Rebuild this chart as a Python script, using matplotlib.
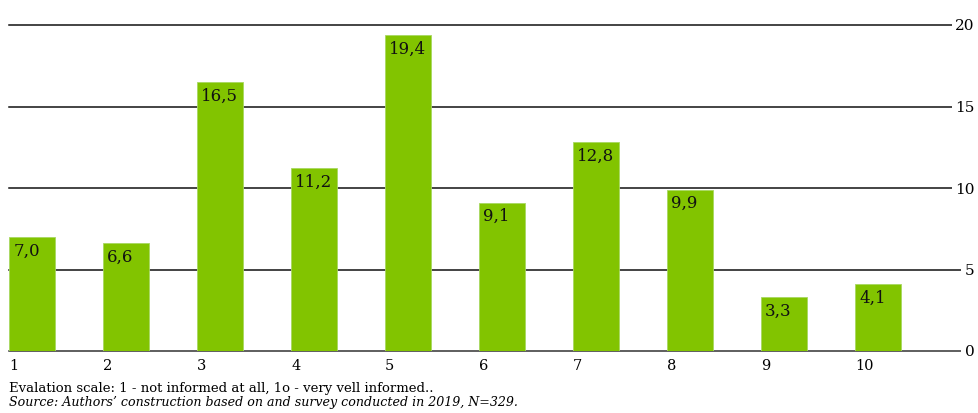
import matplotlib
matplotlib.use("Agg")
import matplotlib.pyplot as plt

categories = ["1", "2", "3", "4", "5", "6", "7", "8", "9", "10"]
values = [7.0, 6.6, 16.5, 11.2, 19.4, 9.1, 12.8, 9.9, 3.3, 4.1]
y_ticks = [0, 5, 10, 15, 20]
note_text = "Evalation scale: 1 - not informed at all, 1o - very vell informed.."
source_text = "Source: Authors\u2019 construction based on and survey conducted in 2019, N=329."

plt.rcParams["font.family"] = ["DejaVu Serif"]

W, H = 979, 413
fig = plt.figure(figsize=(W / 100, H / 100), dpi=100)

left_px, right_px, top_px, bottom_px = 9, 976, 25, 351
slot_px = 94.0
ax = fig.add_axes([left_px / W, 1 - bottom_px / H,
                   (right_px - left_px) / W, (bottom_px - top_px) / H])

x = list(range(len(values)))
ax.set_xlim(0, (right_px - left_px) / slot_px)
ax.set_ylim(0, 20)

for t in y_ticks:
    ax.axhline(t, color="#111111" if t else "#333333", lw=1.1, zorder=1,
               clip_on=False)

bar_color = "#82c400"
bars = ax.bar(x, values, width=0.49, align="edge", color=bar_color,
              edgecolor="#a8d860", linewidth=0.6, zorder=2)

for b, v in zip(bars, values):
    ax.annotate(f"{v:.1f}".replace(".", ","),
                xy=(b.get_x(), b.get_height()), xytext=(3, -4),
                textcoords="offset points", ha="left", va="top",
                fontsize=12, color="#111111", zorder=3)

for s in ax.spines.values():
    s.set_visible(False)

ax.set_xticks(x)
ax.set_xticklabels(categories, fontsize=10.5)
for lab in ax.get_xticklabels():
    lab.set_ha("left")
ax.tick_params(axis="x", length=0, pad=6)

ax.yaxis.tick_right()
ax.set_yticks(y_ticks)
ax.set_yticklabels([str(t) for t in y_ticks], fontsize=11)
ax.tick_params(axis="y", length=0, pad=-1)
for lab in ax.get_yticklabels():
    lab.set_ha("right")
    lab.set_bbox(dict(facecolor="white", edgecolor="none", pad=2.5))

fig.text(9 / W, 1 - 392 / H, note_text, fontsize=9.5, ha="left", va="baseline")
fig.text(9 / W, 1 - 406 / H, source_text, fontsize=9.1, ha="left", va="baseline",
         style="italic")

fig.savefig("out.png", dpi=100)
